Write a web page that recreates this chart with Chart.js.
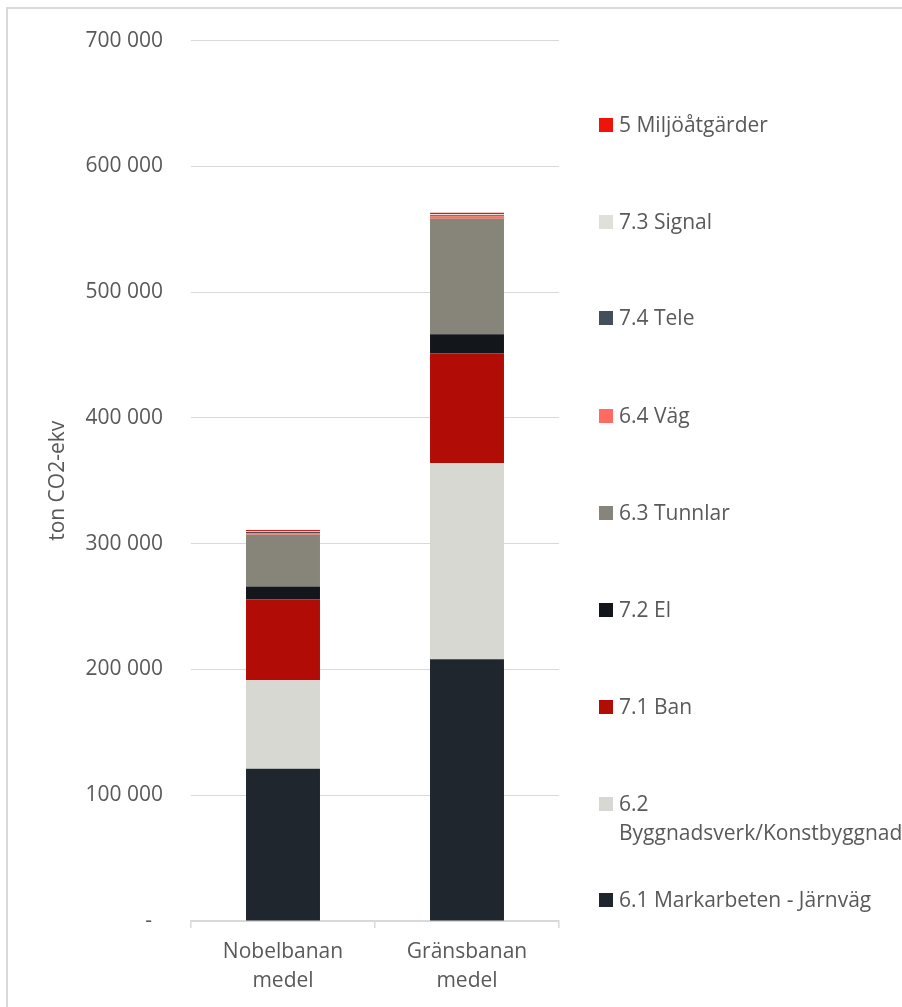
<!DOCTYPE html>
<html>
<head>
<meta charset="utf-8">
<script src="https://cdn.jsdelivr.net/npm/chart.js@4.4.1/dist/chart.umd.min.js"></script>
<style>
  html, body { margin: 0; padding: 0; background: #fff; }
  #wrap { position: relative; width: 902px; height: 1007px; overflow: hidden; }
  #frame { position: absolute; left: 6px; top: 7px; width: 1000px; height: 1100px;
           border-left: 2px solid #d9d9d9; border-top: 2px solid #d9d9d9; box-sizing: border-box; }
  #test { position: absolute; left: 0; top: 0; }
  #legend { position: absolute; left: 599px; top: 0; font-family: "Open Sans", sans-serif;
            font-size: 21px; color: #595959; }
  .item { position: absolute; left: 0; width: 303px; display: flex; align-items: flex-start; }
  .box { width: 14px; height: 14px; flex: none; margin-top: 8px; margin-right: 6px; }
  .txt { line-height: 29px; width: 283px; word-break: normal; }
</style>
</head>
<body>
<div id="wrap">
  <div id="frame"></div>
  <canvas id="test" width="902" height="1007"></canvas>
  <div id="legend"></div>
</div>
<script>
const categories = [['Nobelbanan', 'medel'], ['Gränsbanan', 'medel']];

// stack order bottom -> top
const seriesNames = [
  '6.1 Markarbeten - Järnväg',
  '6.2 Byggnadsverk/Konstbyggnad',
  '7.1 Ban',
  '7.2 El',
  '6.3 Tunnlar',
  '6.4 Väg',
  '7.4 Tele',
  '7.3 Signal',
  '5 Miljöåtgärder'
]
const markarbeten = [121000, 208200]
const byggnadsverk = [70500, 156000]
const ban = [64100, 87100]
const el = [10300, 15300]
const tunnlar = [41200, 91800]
const vag = [1200, 2000]
const tele = [900, 800]
const signal = [700, 1000]
const miljo = [900, 1000]
const seriesValues = [markarbeten, byggnadsverk, ban, el, tunnlar, vag, tele, signal, miljo]

const colors = ['#1f262e', '#d8d8d3', '#b10d06', '#13161b', '#878479', '#ff6b61', '#434f5b', '#e0e0db', '#ee1409']

const yTicks = [0, 100000, 200000, 300000, 400000, 500000, 600000, 700000]

const textColor = '#595959'
const gridColor = '#d9d9d9'
const font = { family: '"Open Sans", sans-serif', size: 21 }

function fmt(v) {
  if (v === 0) return '-\u00a0\u00a0'
  return String(v).replace(/\B(?=(\d{3})+(?!\d))/g, ' ')
}

const datasets = seriesNames.map((name, i) => ({
  label: name,
  data: seriesValues[i],
  backgroundColor: colors[i],
  borderWidth: 0,
  categoryPercentage: 1,
  barPercentage: 0.402
}))

new Chart(document.getElementById('test'), {
  type: 'bar',
  data: { labels: categories, datasets: datasets },
  options: {
    responsive: false,
    animation: false,
    layout: { padding: { left: 0, top: 34, right: 343, bottom: 0 } },
    plugins: { legend: { display: false }, tooltip: { enabled: false } },
    scales: {
      x: {
        stacked: true,
        grid: { offset: true, drawOnChartArea: false, drawTicks: true, tickLength: 7, color: gridColor, lineWidth: 1.5 },
        border: { display: true, color: gridColor, width: 1.5 },
        ticks: { color: textColor, font: { ...font, lineHeight: '29px' }, padding: 10, maxRotation: 0 },
        afterFit: (s) => { s.height = 1007 - 921 }
      },
      y: {
        stacked: true,
        min: 0,
        max: 700000,
        afterBuildTicks: (s) => { s.ticks = yTicks.map(v => ({ value: v })) },
        grid: { color: gridColor, lineWidth: 1, drawTicks: false },
        border: { display: false },
        ticks: { color: textColor, font: font, padding: 28, callback: (v) => fmt(v) },
        title: { display: true, text: 'ton CO2-ekv', color: textColor, font: font, padding: { top: 45, bottom: 0 } },
        afterFit: (s) => { s.width = 191 }
      }
    }
  }
})

// legend, reversed like the original
const legend = document.getElementById('legend')
const legendTops = [125, 222, 318, 416, 513, 610, 707, 804, 900]
seriesNames.slice().reverse().forEach((name, i) => {
  const idx = seriesNames.length - 1 - i
  const item = document.createElement('div')
  item.className = 'item'
  item.style.top = (legendTops[i] - 15) + 'px'
  item.innerHTML = '<span class="box" style="background:' + colors[idx] + '"></span><span class="txt">' + name + '</span>'
  legend.appendChild(item)
})
</script>
</body>
</html>
